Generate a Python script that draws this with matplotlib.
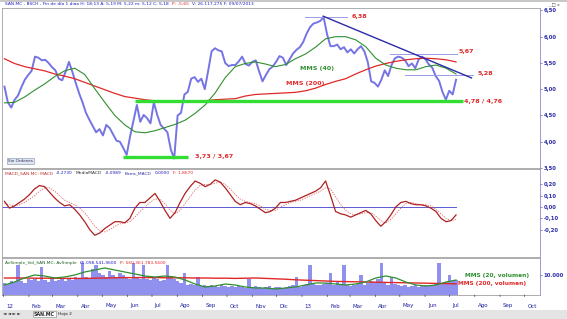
import numpy as np
import pandas as pd
import matplotlib
matplotlib.use("Agg")
import matplotlib.pyplot as plt

W, H = 567, 319

# SAN.MC daily chart
# close, one value every ~3 sessions from 02/01/2012 to 09/07/2013
price = [5.05, 4.75, 4.65, 4.80, 4.88, 5.04, 5.18, 5.27, 5.35, 5.62,
         5.60, 5.55, 5.56, 5.50, 5.42, 5.36, 5.20, 5.17, 5.33, 5.52,
         5.33, 5.12, 4.92, 4.75, 4.55, 4.42, 4.30, 4.18, 4.24, 4.12,
         4.32, 4.26, 4.14, 4.02, 4.00, 3.88, 3.75, 4.10, 4.40, 4.70,
         4.38, 4.51, 4.45, 4.35, 4.75, 4.51, 4.32, 4.25, 4.18, 3.85,
         3.68, 4.50, 4.55, 4.90, 4.95, 5.20, 5.23, 5.14, 5.20, 5.00,
         5.35, 5.72, 5.78, 5.74, 5.72, 5.50, 5.44, 5.46, 5.46, 5.53,
         5.62, 5.48, 5.45, 5.52, 5.55, 5.34, 5.15, 5.27, 5.38, 5.43,
         5.52, 5.63, 5.60, 5.46, 5.57, 5.68, 5.75, 5.80, 5.90, 6.06,
         6.18, 6.25, 6.27, 6.30, 6.37, 6.05, 5.82, 5.82, 5.85, 5.76,
         5.80, 5.70, 5.76, 5.68, 5.76, 5.82, 5.72, 5.52, 5.15, 5.12,
         5.05, 5.18, 5.36, 5.25, 5.46, 5.59, 5.62, 5.60, 5.55, 5.44,
         5.49, 5.40, 5.57, 5.62, 5.57, 5.47, 5.41, 5.25, 5.16, 4.95,
         4.80, 4.97, 4.90, 5.18]

# moving averages of the close (MMS 40 / MMS 200), sampled more coarsely
ma40 = [4.74, 4.75, 4.85, 4.98, 5.10, 5.24, 5.35, 5.40, 5.28, 5.01,
        4.75, 4.50, 4.32, 4.19, 4.17, 4.21, 4.27, 4.33, 4.41, 4.54,
        4.70, 4.93, 5.22, 5.43, 5.49, 5.52, 5.48, 5.43, 5.47, 5.58,
        5.67, 5.80, 5.96, 6.00, 6.00, 5.94, 5.81, 5.59, 5.46, 5.40,
        5.37, 5.37, 5.43, 5.46, 5.40, 5.29]
ma200 = [5.58, 5.49, 5.43, 5.39, 5.35, 5.29, 5.25, 5.20, 5.13, 5.06,
         4.99, 4.92, 4.86, 4.83, 4.80, 4.78, 4.77, 4.76, 4.76, 4.76,
         4.78, 4.80, 4.81, 4.82, 4.87, 4.90, 4.91, 4.92, 4.93, 4.94,
         4.97, 5.02, 5.09, 5.15, 5.20, 5.29, 5.37, 5.44, 5.49, 5.53,
         5.56, 5.58, 5.59, 5.58, 5.56, 5.52]

macd = [0.05, -0.01, 0.01, 0.04, 0.07, 0.11, 0.16, 0.19, 0.18, 0.13,
        0.08, 0.04, 0.01, 0.02, -0.02, -0.07, -0.13, -0.20, -0.25, -0.23,
        -0.19, -0.16, -0.13, -0.13, -0.14, -0.10, -0.01, 0.04, 0.04, 0.08,
        0.12, 0.05, -0.03, -0.10, -0.05, 0.04, 0.12, 0.18, 0.23, 0.21,
        0.18, 0.20, 0.24, 0.22, 0.17, 0.11, 0.05, 0.02, 0.04, 0.03,
        0.01, -0.02, -0.05, -0.04, -0.01, 0.04, 0.04, 0.05, 0.06, 0.08,
        0.10, 0.12, 0.14, 0.17, 0.23, 0.10, -0.04, -0.06, -0.07, -0.09,
        -0.07, -0.05, -0.03, -0.06, -0.12, -0.17, -0.13, -0.07, 0.00, 0.04,
        0.05, 0.03, 0.02, 0.02, 0.01, -0.01, -0.04, -0.10, -0.13, -0.12,
        -0.07]
macd_signal = [0.03, 0.02, 0.01, 0.02, 0.04, 0.07, 0.10, 0.14, 0.17, 0.17,
               0.14, 0.10, 0.06, 0.04, 0.02, -0.01, -0.05, -0.11, -0.17, -0.21,
               -0.22, -0.20, -0.17, -0.15, -0.14, -0.13, -0.09, -0.04, 0.00, 0.04,
               0.07, 0.07, 0.03, -0.03, -0.06, -0.03, 0.03, 0.09, 0.15, 0.19,
               0.20, 0.20, 0.21, 0.22, 0.20, 0.16, 0.11, 0.07, 0.05, 0.04,
               0.03, 0.01, -0.02, -0.03, -0.03, 0.00, 0.02, 0.04, 0.05, 0.06,
               0.08, 0.10, 0.12, 0.14, 0.17, 0.16, 0.09, 0.02, -0.03, -0.06,
               -0.07, -0.06, -0.05, -0.05, -0.08, -0.12, -0.14, -0.11, -0.06, -0.01,
               0.03, 0.04, 0.03, 0.02, 0.02, 0.01, -0.02, -0.06, -0.10, -0.12,
               -0.11]

# volume (thousands), same sampling as the close
volume = [6000, 5500, 7000, 6500, 15000, 7000, 6000, 8000, 7500,
          8000, 7000, 14000, 7500, 6500, 9000, 7000, 7500, 8000,
          7000, 8500, 7500, 9000, 8000, 16000, 9000, 8500, 13000,
          15000, 11000, 10000, 9000, 12000, 10000, 9000, 11000, 10000,
          9000, 8000, 16000, 9000, 8000, 15000, 8000, 7500, 9000,
          8000, 7000, 7500, 15000, 9000, 8000, 7000, 6000, 11000,
          5000, 5500, 5000, 9000, 4500, 5000, 4500, 5000, 4500,
          4000, 5000, 4500, 4000, 4500, 4000, 4500, 4000, 3500,
          8000, 4000, 4500, 4000, 3500, 4000, 4500, 3500, 4000,
          4000, 3500, 4000, 4500, 5000, 9000, 4000, 5000, 5500,
          15000, 5500, 5000, 5000, 5500, 6000, 11000, 5000, 6500,
          5500, 15000, 5000, 4500, 5000, 5500, 10000, 5000, 6000,
          7000, 6500, 8000, 16000, 6000, 5000, 9000, 5500, 5000,
          4500, 5000, 4000, 4500, 5000, 4000, 4500, 5000, 4500,
          5000, 5500, 16000, 6000, 6500, 10000, 7000, 7500]
vol_ma20 = [5000, 6500, 8500, 10000, 9500, 8500, 9000, 10000, 11500, 12500,
            13500, 12500, 11500, 10500, 9500, 9000, 9500, 9000, 7500, 5500,
            4000, 4500, 5500, 5000, 4000, 3500, 3500, 3000, 3500, 4000,
            5000, 6000, 6000, 5500, 5000, 5500, 6500, 8500, 9500, 8500,
            6500, 5000, 4500, 5000, 6500, 7500]
vol_ma200 = [8500, 8500, 8500, 8400, 8400, 8400, 8300, 8300, 8300, 8400,
             8500, 8600, 8700, 8700, 8700, 8700, 8600, 8600, 8600, 8500,
             8500, 8400, 8400, 8300, 8400, 8500, 8300, 8100, 7900, 7600,
             7400, 7200, 7000, 6800, 6700, 6600, 6500, 6400, 6300, 6200,
             6100, 6000, 5900, 5800, 5700, 5600]

# support / resistance levels drawn on the chart
level_vals = [6.38, 5.67, 5.28]
level_from = ["2013-01-05", "2013-04-19", "2013-05-07"]
level_to = ["2013-02-25", "2013-07-10", "2013-07-30"]
support_vals = [4.78, 3.70]
support_from = ["2012-06-10", "2012-05-26"]
support_to = ["2013-07-17", "2012-08-14"]
trend_dates = ["2013-01-27", "2013-07-28"]
trend_vals = [6.39, 5.215]

month_labels = ["12", "Feb", "Mar", "Abr", "May", "Jun", "Jul", "Ago", "Sep",
                "Oct", "Nov", "Dic", "13", "Feb", "Mar", "Abr", "May", "Jun",
                "Jul", "Ago", "Sep", "Oct"]

start, end = "2012-01-02", "2013-07-09"
d_price = pd.date_range(start, end, periods=len(price))
d_ma = pd.date_range(start, end, periods=len(ma40))
d_macd = pd.date_range(start, end, periods=len(macd))
d_vma = pd.date_range(start, end, periods=len(vol_ma20))
months = pd.date_range("2012-01-01", periods=len(month_labels), freq="MS")
xlim = (pd.Timestamp("2011-12-30"), pd.Timestamp("2013-10-20"))

BLUE = "#7474e4"
GREEN = "#2f8f2f"
RED = "#e02828"
AXBLUE = "#2a2aa8"


def fx(x):
    return x / W


def fy(y):
    return 1 - y / H


def box(top, bottom):
    return [fx(2), fy(bottom), (540 - 2) / W, (bottom - top) / H]


fig = plt.figure(figsize=(W / 100, H / 100), dpi=100)
fig.patch.set_facecolor("white")

ax1 = fig.add_axes(box(8, 168))
ax2 = fig.add_axes(box(169, 257))
ax3 = fig.add_axes(box(258, 295))

for ax in (ax1, ax2, ax3):
    ax.set_xlim(*xlim)
    ax.yaxis.tick_right()
    ax.tick_params(axis="y", labelsize=3.8, colors=AXBLUE, length=1.5, width=0.4, pad=1)
    ax.set_xticks([])
    for s in ("left", "top", "bottom"):
        ax.spines[s].set_color("#a0a0a0")
        ax.spines[s].set_linewidth(0.6)
    ax.spines["right"].set_color("#8c8cd8")
    ax.spines["right"].set_linewidth(0.6)

# price panel
ax1.plot(d_price, price, color=BLUE, lw=1.4)
ax1.plot(d_ma, ma200, color=RED, lw=0.9)
ax1.plot(d_ma, ma40, color=GREEN, lw=0.8)
for v, a, b in zip(support_vals, support_from, support_to):
    ax1.plot([pd.Timestamp(a), pd.Timestamp(b)], [v, v], color="#33dd33", lw=2.4,
             solid_capstyle="butt")
for v, a, b in zip(level_vals, level_from, level_to):
    ax1.plot([pd.Timestamp(a), pd.Timestamp(b)], [v, v], color="#9a9ae8", lw=0.7)
ax1.plot(pd.to_datetime(trend_dates), trend_vals, color="#2c2ca6", lw=1.0)

ax1.set_ylim(3.504, 6.546)
ax1.set_yticks([3.5, 4.0, 4.5, 5.0, 5.5, 6.0, 6.5])
ax1.set_yticklabels([f"{t:.2f}".replace(".", ",") for t in ax1.get_yticks()],
                    fontweight="bold")

lab_kw = dict(color=RED, fontsize=4.6, fontweight="bold", va="center")
ax1.text(pd.Timestamp("2013-03-03"), 6.38, "6,38", **lab_kw)
ax1.text(pd.Timestamp("2013-07-12"), 5.72, "5,67", **lab_kw)
ax1.text(pd.Timestamp("2013-08-04"), 5.30, "5,28", **lab_kw)
ax1.text(pd.Timestamp("2013-07-19"), 4.77, "4,78 / 4,76", **lab_kw)
ax1.text(pd.Timestamp("2012-08-23"), 3.71, "3,73 / 3,67", **lab_kw)
ax1.text(pd.Timestamp("2012-12-29"), 5.40, "MMS (40)", color=GREEN, fontsize=4.6,
         fontweight="bold", va="center")
ax1.text(pd.Timestamp("2012-12-13"), 5.10, "MMS (200)", color=RED, fontsize=4.6,
         fontweight="bold", va="center")
ax1.text(0.012, 0.035, "Sin Ordenes", transform=ax1.transAxes, fontsize=3, color="#333366",
         bbox=dict(boxstyle="square,pad=0.25", fc="#dfe6f0", ec="#8090b0", lw=0.4))

# MACD panel
ax2.axhline(0, xmin=0, xmax=(pd.Timestamp(end) - xlim[0]) / (xlim[1] - xlim[0]),
            color="#5a5ad0", lw=0.7)
ax2.plot(d_macd, macd_signal, color="#e06060", lw=0.6, ls=(0, (1.5, 1.5)))
ax2.plot(d_macd, macd, color="#b02020", lw=0.9)
ax2.set_ylim(-0.442, 0.336)
ax2.set_yticks([-0.2, -0.1, 0.0, 0.1, 0.2])
ax2.set_yticklabels([f"{t:.2f}".replace(".", ",") for t in ax2.get_yticks()],
                    fontweight="bold")

# volume panel
ax3.bar(d_price, volume, width=(d_price[1] - d_price[0]), color="#9090ee", lw=0)
ax3.plot(d_vma, vol_ma200, color=RED, lw=1.0)
ax3.plot(d_vma, vol_ma20, color=GREEN, lw=0.9)
ax3.set_ylim(0, 18500)
ax3.set_yticks([10000])
ax3.set_yticklabels(["10.000"], fontweight="bold")
ax3.text(pd.Timestamp("2013-07-20"), 9900, "MMS (20, volumen)", color=GREEN, fontsize=4.2,
         fontweight="bold", va="center")
ax3.text(pd.Timestamp("2013-07-12"), 5900, "MMS (200, volumen)", color=RED, fontsize=4.2,
         fontweight="bold", va="center")
for m, lab in zip(months, month_labels):
    ax3.annotate("", xy=(m, 0), xycoords=("data", "axes fraction"), xytext=(m, -0.12),
                 textcoords=("data", "axes fraction"),
                 arrowprops=dict(arrowstyle="-", color="#3030a0", lw=0.5))
    ax3.annotate(lab, xy=(m, 0), xycoords=("data", "axes fraction"), xytext=(2, -9),
                 textcoords="offset points", fontsize=4, color="#2020a0", ha="left")

# header lines, pieces chained one after another
renderer = fig.canvas.get_renderer()


def header(y, parts):
    x = fx(5)
    for txt, col in parts:
        t = fig.text(x, fy(y), txt, fontsize=3.2, color=col, va="center")
        bb = t.get_window_extent(renderer)
        x = (bb.x1 + 3) / W


header(4, [("SAN.MC - BSCH - Fin de día 1 diaa H: 18:13 A: 5,19 M: 5,22 m: 5,12 C: 5,18", "#2020c0"),
           ("P: -5,65", RED), ("V: 26.117.275 F: 09/07/2013", "#2020c0")])
header(173, [("MACD_SAN.MC: MACD", "#c03030"), ("-0,2730", "#2020c0"), ("MediaMACD", "#303030"),
             ("-0,0989", "#2020c0"), ("Barra_MACD", "#3030a0"), ("0,0000", "#2020c0"),
             ("F: 1,8670", RED)])
header(263, [("AvSimple_Vol_SAN.MC: AvSimple", "#206020"), ("65.098.541,9600", "#2020c0"),
             ("P: 560.361.783,5600", RED)])

# window chrome
fig.add_artist(plt.Rectangle((0, fy(2)), 1, 2 / H, color="#c8c8c8", lw=0))
fig.add_artist(plt.Rectangle((0, 0), 1, 9 / H, color="#e4e4e4", lw=0))
fig.text(fx(3), fy(314), "◄ ◄ ► ►", fontsize=3.2, color="#202020", va="center")
fig.text(fx(34), fy(314), "SAN.MC", fontsize=3.4, fontweight="bold", color="#202020", va="center",
         bbox=dict(boxstyle="square,pad=0.2", fc="white", ec="#808080", lw=0.4))
fig.text(fx(58), fy(314), "Hoja 2", fontsize=3.2, color="#202020", va="center")
fig.text(fx(548), fy(5), "_ □ x", fontsize=3.2, color="#404040", va="center")

fig.savefig("out.png", dpi=100)
